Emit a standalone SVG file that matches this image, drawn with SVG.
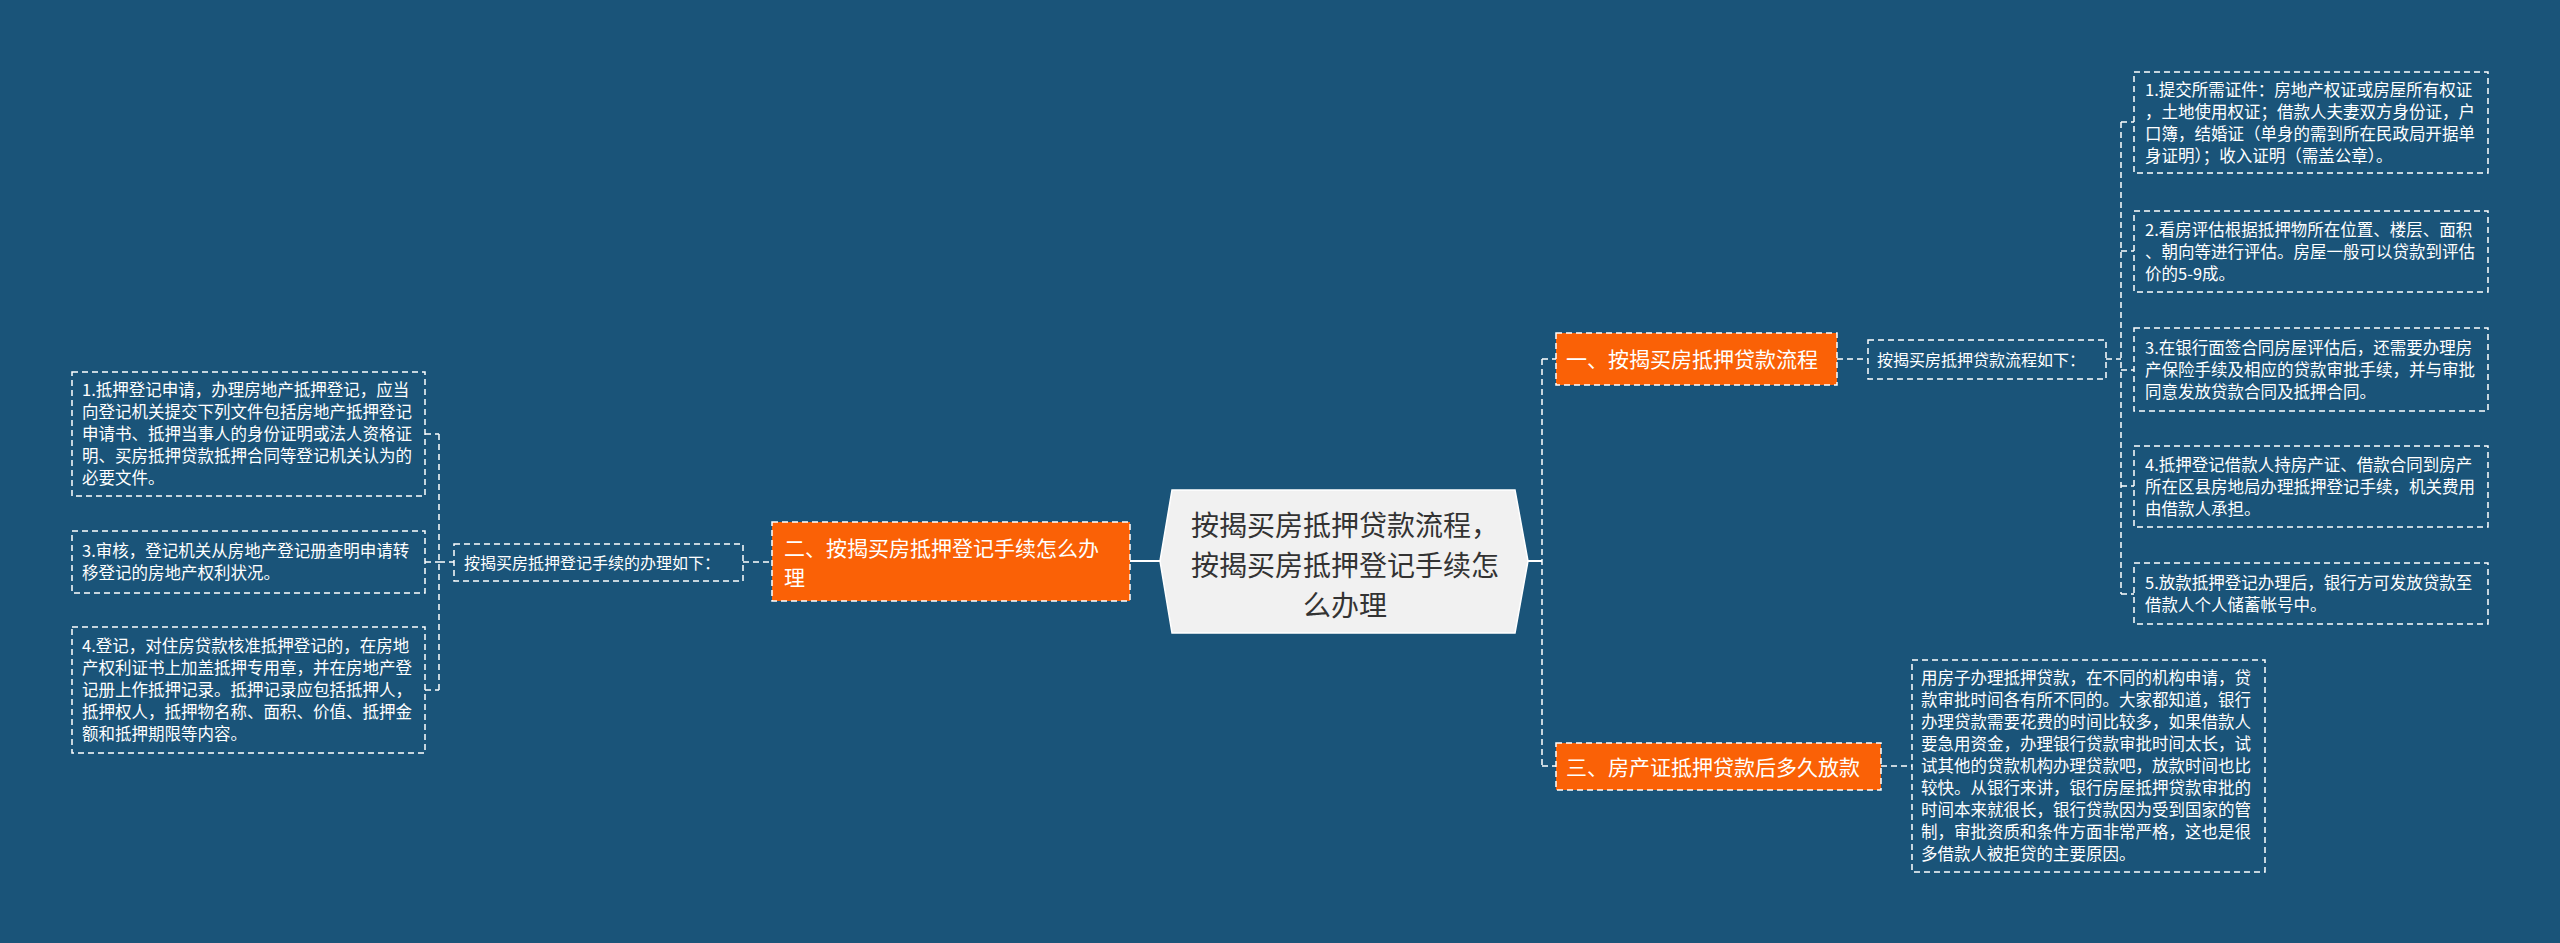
<svg xmlns="http://www.w3.org/2000/svg" width="2560" height="943" viewBox="0 0 2560 943">
<style>
.t{font-family:"Noto Sans CJK SC","Noto Sans",sans-serif;fill:#ffffff}
.s{font-size:16.5px}
.l{font-size:16px}
.o{font-size:21px}
.c{font-size:28px;fill:#333333;text-anchor:middle}
.box{fill:none;stroke:#ffffff;stroke-width:1.5;stroke-dasharray:6 4}
.org{fill:#fa6106;stroke:#ffffff;stroke-width:1.5;stroke-dasharray:6 4}
.dl{fill:none;stroke:#ffffff;stroke-width:1.5;stroke-dasharray:6 4}
.sl{fill:none;stroke:#ffffff;stroke-width:2}
</style>
<rect width="2560" height="943" fill="#1a5479"/>
<g id="connectors">
<line class="sl" x1="1130" y1="561" x2="1164" y2="561"/>
<line class="sl" x1="1527" y1="561" x2="1542" y2="561"/>
<line class="dl" x1="1542" y1="359" x2="1542" y2="766"/>
<line class="dl" x1="1542" y1="359" x2="1556" y2="359"/>
<line class="dl" x1="1542" y1="766" x2="1556" y2="766"/>
<line class="dl" x1="1837" y1="359" x2="1868" y2="359"/>
<line class="dl" x1="2106" y1="359" x2="2121" y2="359"/>
<line class="dl" x1="2121" y1="122" x2="2121" y2="594"/>
<line class="dl" x1="2121" y1="122" x2="2134" y2="122"/>
<line class="dl" x1="2121" y1="251" x2="2134" y2="251"/>
<line class="dl" x1="2121" y1="370" x2="2134" y2="370"/>
<line class="dl" x1="2121" y1="486" x2="2134" y2="486"/>
<line class="dl" x1="2121" y1="594" x2="2134" y2="594"/>
<line class="dl" x1="1881" y1="766" x2="1912" y2="766"/>
<line class="dl" x1="743" y1="562" x2="772" y2="562"/>
<line class="dl" x1="439" y1="562" x2="454" y2="562"/>
<line class="dl" x1="439" y1="434" x2="439" y2="690"/>
<line class="dl" x1="425" y1="434" x2="439" y2="434"/>
<line class="dl" x1="425" y1="562" x2="439" y2="562"/>
<line class="dl" x1="425" y1="690" x2="439" y2="690"/>
</g>
<g id="center">
<polygon points="1172,490 1515,490 1528,561 1515,633 1172,633 1160,561" fill="#f1f1f1" stroke="#ffffff" stroke-width="1.5"/>
<text class="t c" x="1345" y="535.5">按揭买房抵押贷款流程，</text>
<text class="t c" x="1345" y="575.5">按揭买房抵押登记手续怎</text>
<text class="t c" x="1345" y="615.5">么办理</text>
</g>
<g id="n1">
<rect class="org" x="1556" y="333" width="281" height="52"/>
<text class="t o" x="1566" y="367">一、按揭买房抵押贷款流程</text>
</g>
<g id="n1-label">
<rect class="box" x="1868" y="340" width="238" height="39"/>
<text class="t l" x="1877" y="365.5">按揭买房抵押贷款流程如下：</text>
</g>
<g id="r1">
<rect class="box" x="2134" y="72" width="354" height="101"/>
<text class="t s" x="2145" y="95.5">1.提交所需证件：房地产权证或房屋所有权证</text>
<text class="t s" x="2145" y="117.5">，土地使用权证；借款人夫妻双方身份证，户</text>
<text class="t s" x="2145" y="139.5">口簿，结婚证（单身的需到所在民政局开据单</text>
<text class="t s" x="2145" y="161.5">身证明）；收入证明（需盖公章）。</text>
</g>
<g id="r2">
<rect class="box" x="2134" y="211" width="354" height="81"/>
<text class="t s" x="2145" y="235.5">2.看房评估根据抵押物所在位置、楼层、面积</text>
<text class="t s" x="2145" y="257.5">、朝向等进行评估。房屋一般可以贷款到评估</text>
<text class="t s" x="2145" y="279.5">价的5-9成。</text>
</g>
<g id="r3">
<rect class="box" x="2134" y="328" width="354" height="83"/>
<text class="t s" x="2145" y="353.5">3.在银行面签合同房屋评估后，还需要办理房</text>
<text class="t s" x="2145" y="375.5">产保险手续及相应的贷款审批手续，并与审批</text>
<text class="t s" x="2145" y="397.5">同意发放贷款合同及抵押合同。</text>
</g>
<g id="r4">
<rect class="box" x="2134" y="446" width="354" height="81"/>
<text class="t s" x="2145" y="470.5">4.抵押登记借款人持房产证、借款合同到房产</text>
<text class="t s" x="2145" y="492.5">所在区县房地局办理抵押登记手续，机关费用</text>
<text class="t s" x="2145" y="514.5">由借款人承担。</text>
</g>
<g id="r5">
<rect class="box" x="2134" y="563" width="354" height="61"/>
<text class="t s" x="2145" y="588.5">5.放款抵押登记办理后，银行方可发放贷款至</text>
<text class="t s" x="2145" y="610.5">借款人个人储蓄帐号中。</text>
</g>
<g id="n3">
<rect class="org" x="1556" y="743" width="325" height="47"/>
<text class="t o" x="1566" y="774.5">三、房产证抵押贷款后多久放款</text>
</g>
<g id="n3-text">
<rect class="box" x="1912" y="660" width="353" height="212"/>
<text class="t s" x="1921" y="684">用房子办理抵押贷款，在不同的机构申请，贷</text>
<text class="t s" x="1921" y="706">款审批时间各有所不同的。大家都知道，银行</text>
<text class="t s" x="1921" y="728">办理贷款需要花费的时间比较多，如果借款人</text>
<text class="t s" x="1921" y="750">要急用资金，办理银行贷款审批时间太长，试</text>
<text class="t s" x="1921" y="772">试其他的贷款机构办理贷款吧，放款时间也比</text>
<text class="t s" x="1921" y="794">较快。从银行来讲，银行房屋抵押贷款审批的</text>
<text class="t s" x="1921" y="816">时间本来就很长，银行贷款因为受到国家的管</text>
<text class="t s" x="1921" y="838">制，审批资质和条件方面非常严格，这也是很</text>
<text class="t s" x="1921" y="860">多借款人被拒贷的主要原因。</text>
</g>
<g id="n2">
<rect class="org" x="772" y="522" width="358" height="79"/>
<text class="t o" x="784" y="556">二、按揭买房抵押登记手续怎么办</text>
<text class="t o" x="784" y="585">理</text>
</g>
<g id="n2-label">
<rect class="box" x="454" y="544" width="289" height="37"/>
<text class="t l" x="464" y="568.5">按揭买房抵押登记手续的办理如下：</text>
</g>
<g id="l1">
<rect class="box" x="72" y="372" width="353" height="124"/>
<text class="t s" x="82" y="396">1.抵押登记申请，办理房地产抵押登记，应当</text>
<text class="t s" x="82" y="418">向登记机关提交下列文件包括房地产抵押登记</text>
<text class="t s" x="82" y="440">申请书、抵押当事人的身份证明或法人资格证</text>
<text class="t s" x="82" y="462">明、买房抵押贷款抵押合同等登记机关认为的</text>
<text class="t s" x="82" y="484">必要文件。</text>
</g>
<g id="l3">
<rect class="box" x="72" y="531" width="353" height="62"/>
<text class="t s" x="82" y="557">3.审核，登记机关从房地产登记册查明申请转</text>
<text class="t s" x="82" y="579">移登记的房地产权利状况。</text>
</g>
<g id="l4">
<rect class="box" x="72" y="627" width="353" height="126"/>
<text class="t s" x="82" y="652">4.登记，对住房贷款核准抵押登记的，在房地</text>
<text class="t s" x="82" y="674">产权利证书上加盖抵押专用章，并在房地产登</text>
<text class="t s" x="82" y="696">记册上作抵押记录。抵押记录应包括抵押人，</text>
<text class="t s" x="82" y="718">抵押权人，抵押物名称、面积、价值、抵押金</text>
<text class="t s" x="82" y="740">额和抵押期限等内容。</text>
</g>
</svg>
